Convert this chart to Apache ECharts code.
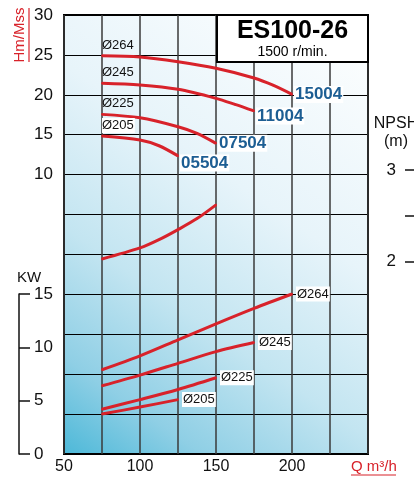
<!DOCTYPE html>
<html><head><meta charset="utf-8">
<script src="https://cdn.jsdelivr.net/npm/echarts@6/dist/echarts.min.js"></script>
<style>html,body{margin:0;padding:0;background:#fff}#c{width:414px;height:483px}</style>
</head><body><div id="c"></div>
<script>
// ---- data ----
const xTickLabels = [50, 100, 150, 200];
const headTickLabels = [10, 15, 20, 25, 30];
const kwTickLabels = [0, 5, 10, 15];
const npshTickLabels = [2, 3];

const diameters = ['Ø264', 'Ø245', 'Ø225', 'Ø205'];
const models = ['15004', '11004', '07504', '05504'];

// Head curves (Q m3/h, H m)
const qH264 = [75, 100, 125, 150, 175, 187.5, 200];
const h264  = [24.9, 24.75, 24.15, 23.32, 22.1, 21.2, 20.05];
const qH245 = [75, 100, 125, 150, 162.5, 175];
const h245  = [21.44, 21.23, 20.69, 19.56, 18.8, 17.98];
const qH225 = [75, 100, 125, 137.5, 150];
const h225  = [17.55, 17.12, 16.0, 15.17, 13.92];
const qH205 = [75, 100, 112.5, 125];
const h205  = [14.84, 14.34, 13.62, 12.35];

// Power curves (Q m3/h, kW)
const qP264 = [75, 100, 125, 150, 175, 200];
const p264  = [7.9, 9.2, 10.7, 12.2, 13.65, 15.0];
const qP245 = [75, 100, 125, 150, 175];
const p245  = [6.4, 7.4, 8.5, 9.6, 10.45];
const qP225 = [75, 100, 125, 150];
const p225  = [4.2, 5.1, 6.05, 7.15];
const qP205 = [75, 100, 125];
const p205  = [3.75, 4.4, 5.1];

// NPSH curve (Q m3/h, m)
const qN   = [75, 100, 112.5, 125, 137.5, 150];
const npsh = [2.03, 2.15, 2.24, 2.35, 2.47, 2.62];

// ---- styles ----
const RED = '#d8222a';
const BLUE = '#1d5e93';
const TXT = '#111';
const FF = "'Liberation Sans', Arial, sans-serif";
const modelOffsets = [0, 5, 0, 7];

function line(qs, vs, idx, startLabel, endLabel) {
  const data = qs.map((q, i) => {
    const item = { value: [q, vs[i]] };
    if (i === 0 && startLabel) item.label = startLabel;
    if (i === qs.length - 1 && endLabel) item.label = endLabel;
    return item;
  });
  return {
    type: 'line', xAxisIndex: idx, yAxisIndex: idx, data,
    smooth: 0.3, symbol: 'circle', symbolSize: 2, showSymbol: true,
    lineStyle: { color: RED, width: 3, cap: 'butt' },
    itemStyle: { color: RED },
    label: { show: false },
    clip: false, silent: true, animation: false, z: 3
  };
}
function diaTop(t, bg) {
  return { show: true, position: 'top', align: 'left', distance: 2, formatter: t,
    color: TXT, fontSize: 13, fontFamily: FF,
    backgroundColor: bg ? '#ffffff' : 'transparent', padding: [1, 1, 1, 0] };
}
function modelLbl(t, dy) {
  return { show: true, position: 'right', distance: 1, offset: [0, dy], formatter: t,
    color: BLUE, fontSize: 17, fontWeight: 'bold', fontFamily: FF,
    backgroundColor: '#ffffff', padding: [0, 1] };
}
function diaEnd(t) {
  return { show: true, position: 'right', distance: 3, formatter: t,
    color: TXT, fontSize: 13, fontFamily: FF, backgroundColor: '#ffffff', padding: [1, 1] };
}

const headQ = [qH264, qH245, qH225, qH205];
const headV = [h264, h245, h225, h205];
const powQ = [qP264, qP245, qP225, qP205];
const powV = [p264, p245, p225, p205];

const series = [];
for (let k = 0; k < 4; k++) {
  series.push(line(headQ[k], headV[k], 0, diaTop(diameters[k], k === 3), modelLbl(models[k], modelOffsets[k])));
}
for (let k = 0; k < 4; k++) {
  series.push(line(powQ[k], powV[k], 1, null, diaEnd(diameters[k])));
}
series.push(line(qN, npsh, 2, null, null));

const hiddenX = (i) => ({ type: 'value', gridIndex: i, min: 50, max: 250, interval: 25, show: false });

const option = {
  backgroundColor: '#ffffff',
  animation: false,
  grid: [
    { left: 64, right: 46, top: 15, bottom: 29, show: true, outerBoundsMode: 'none',
      borderColor: '#000', borderWidth: 2,
      backgroundColor: { type: 'linear', x: 0, y: 1, x2: 1, y2: 0, colorStops: [
        { offset: 0, color: '#4cb8d8' }, { offset: 0.15, color: '#8fcfe5' },
        { offset: 0.35, color: '#c3e5f1' }, { offset: 0.6, color: '#e7f4fa' },
        { offset: 1, color: '#ffffff' } ] } },
    { left: 64, right: 46, top: 294, bottom: 29, show: false, outerBoundsMode: 'none' },
    { left: 64, right: 46, top: 170, bottom: 221.3, show: false, outerBoundsMode: 'none' }
  ],
  xAxis: [
    { type: 'value', gridIndex: 0, min: 50, max: 250, interval: 25,
      axisLine: { show: false }, axisTick: { show: false },
      axisLabel: { color: TXT, fontSize: 16, fontFamily: FF, margin: 5,
        formatter: v => xTickLabels.includes(v) ? String(v) : '' },
      splitLine: { show: true, lineStyle: { color: '#3a3a3a', width: 1.5 } } },
    hiddenX(1), hiddenX(2)
  ],
  yAxis: [
    { type: 'value', gridIndex: 0, min: -25, max: 30, interval: 5,
      axisLine: { show: false }, axisTick: { show: false },
      axisLabel: { color: TXT, fontSize: 17, fontFamily: FF, margin: 11,
        formatter: v => headTickLabels.includes(v) ? String(v) : '' },
      splitLine: { show: true, lineStyle: { color: '#000', width: 1 } } },
    { type: 'value', gridIndex: 1, min: 0, max: 15, interval: 5, position: 'left', offset: 45,
      name: 'KW', nameLocation: 'end', nameGap: 9,
      nameTextStyle: { color: TXT, fontSize: 15, fontFamily: FF, align: 'left', padding: [0, 0, 0, -2] },
      axisLine: { show: true, lineStyle: { color: '#111', width: 1.5 } },
      axisTick: { show: true, inside: true, length: 11, lineStyle: { color: '#111', width: 1.5 } },
      axisLabel: { inside: true, margin: 15, color: TXT, fontSize: 17, fontFamily: FF,
        formatter: v => kwTickLabels.includes(v) ? String(v) : '' },
      splitLine: { show: false } },
    { type: 'value', gridIndex: 2, min: 2, max: 3, interval: 0.5, position: 'right', offset: 47,
      axisLine: { show: true, lineStyle: { color: '#111', width: 1.5 } },
      axisTick: { show: true, inside: true, length: 10, lineStyle: { color: '#111', width: 1.5 } },
      axisLabel: { inside: true, margin: 19, color: TXT, fontSize: 17, fontFamily: FF,
        formatter: v => npshTickLabels.includes(v) ? String(v) : '' },
      splitLine: { show: false } }
  ],
  graphic: [
    { type: 'rect', z: 50, shape: { x: 217, y: 15, width: 151, height: 47 },
      style: { fill: '#ffffff', stroke: '#000', lineWidth: 2 } },
    { type: 'text', z: 51, x: 292.5, y: 31, style: { text: 'ES100-26', fill: '#000',
      font: "bold 25px 'Liberation Sans', Arial, sans-serif", align: 'center', verticalAlign: 'middle' } },
    { type: 'text', z: 51, x: 292.5, y: 52, style: { text: '1500 r/min.', fill: '#000',
      font: "14px 'Liberation Sans', Arial, sans-serif", align: 'center', verticalAlign: 'middle' } },
    { type: 'text', z: 51, x: 20, y: 35, rotation: Math.PI / 2, style: { text: 'Hm/Mss', fill: RED,
      font: "15px 'Liberation Sans', Arial, sans-serif", align: 'center', verticalAlign: 'middle' } },
    { type: 'line', z: 51, shape: { x1: 29, y1: 8, x2: 29, y2: 62 }, style: { stroke: RED, lineWidth: 1.2 } },
    { type: 'text', z: 51, x: 351, y: 467, style: { text: 'Q m³/h', fill: RED,
      font: "15px 'Liberation Sans', Arial, sans-serif", align: 'left', verticalAlign: 'middle' } },
    { type: 'line', z: 51, shape: { x1: 351, y1: 475, x2: 396, y2: 475 }, style: { stroke: RED, lineWidth: 1.2 } },
    { type: 'text', z: 51, x: 396, y: 124, style: { text: 'NPSH', fill: TXT,
      font: "16px 'Liberation Sans', Arial, sans-serif", align: 'center', verticalAlign: 'middle' } },
    { type: 'text', z: 51, x: 396, y: 142, style: { text: '(m)', fill: TXT,
      font: "16px 'Liberation Sans', Arial, sans-serif", align: 'center', verticalAlign: 'middle' } }
  ],
  series
};

const chart = echarts.init(document.getElementById('c'), null, { renderer: 'canvas' });
chart.setOption(option);
</script></body></html>
